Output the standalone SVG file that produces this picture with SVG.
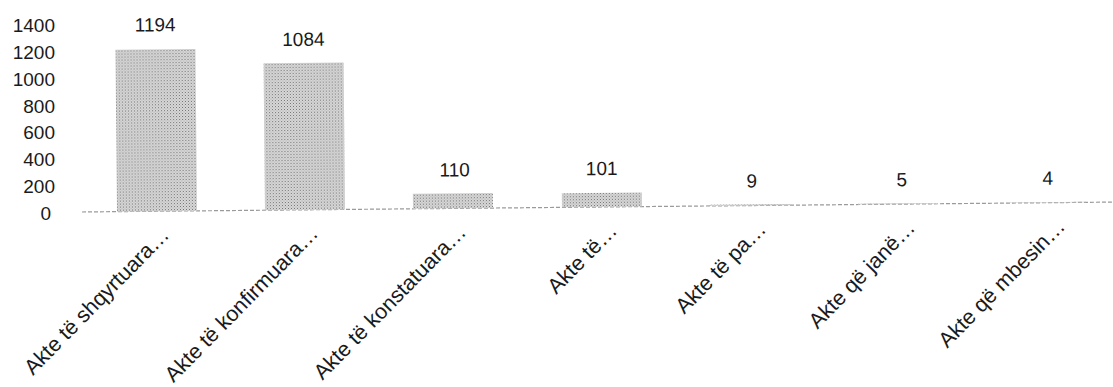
<svg xmlns="http://www.w3.org/2000/svg" width="1113" height="387" viewBox="0 0 1113 387">
<defs>
<pattern id="dots" width="3" height="3" patternUnits="userSpaceOnUse">
<rect width="3" height="3" fill="#d9d9d9"/>
<rect width="1" height="1" fill="#707070"/>
<rect x="1.5" y="1.5" width="1" height="1" fill="#9c9c9c"/>
</pattern>
<style>
text{font-family:"Liberation Sans",Arial,sans-serif;fill:#1a1a1a}
.ax{font-size:19px;text-anchor:end}
.val{font-size:19px;text-anchor:middle}
.cat{font-size:21.5px;text-anchor:end}
.bar{fill:url(#dots)}
.base{stroke:#9a9a9a;stroke-width:1.2;stroke-dasharray:4 2;fill:none}
</style>
</defs>
<rect width="1113" height="387" fill="#ffffff"/>
<g id="y-axis">
<text class="ax" x="55" y="32">1400</text>
<text class="ax" x="55" y="59">1200</text>
<text class="ax" x="55" y="86">1000</text>
<text class="ax" x="55" y="113">800</text>
<text class="ax" x="55" y="139">600</text>
<text class="ax" x="55" y="166">400</text>
<text class="ax" x="55" y="193">200</text>
<text class="ax" x="51" y="220">0</text>
</g>
<g transform="rotate(-0.55 80 212)">
<g id="axis"><line class="base" x1="82" y1="212" x2="1125" y2="212"/></g>
<g id="bar1">
<rect class="bar" x="117" y="50" width="80" height="162"/>
<text class="val" x="157" y="32">1194</text>
<text class="cat" transform="translate(170 237) rotate(-45)">Akte të shqyrtuara…</text>
</g>
<g id="bar2">
<rect class="bar" x="265" y="65" width="80" height="147"/>
<text class="val" x="305" y="48">1084</text>
<text class="cat" transform="translate(319 237) rotate(-45)">Akte të konfirmuara…</text>
</g>
<g id="bar3">
<rect class="bar" x="413" y="197" width="80" height="15"/>
<text class="val" x="455" y="180">110</text>
<text class="cat" transform="translate(467 237) rotate(-45)">Akte të konstatuara…</text>
</g>
<g id="bar4">
<rect class="bar" x="562" y="198" width="80" height="14"/>
<text class="val" x="602" y="180">101</text>
<text class="cat" transform="translate(618 237) rotate(-45)">Akte të…</text>
</g>
<g id="bar5">
<rect class="bar" x="710" y="210.8" width="80" height="1.2"/>
<text class="val" x="752" y="194">9</text>
<text class="cat" transform="translate(767 237) rotate(-45)">Akte të pa…</text>
</g>
<g id="bar6">
<rect class="bar" x="858" y="211.3" width="80" height="0.7"/>
<text class="val" x="902" y="194">5</text>
<text class="cat" transform="translate(916 237) rotate(-45)">Akte që janë…</text>
</g>
<g id="bar7">
<rect class="bar" x="1006" y="211.5" width="80" height="0.5"/>
<text class="val" x="1048" y="194">4</text>
<text class="cat" transform="translate(1066 237) rotate(-45)">Akte që mbesin…</text>
</g>
</g>
</svg>
